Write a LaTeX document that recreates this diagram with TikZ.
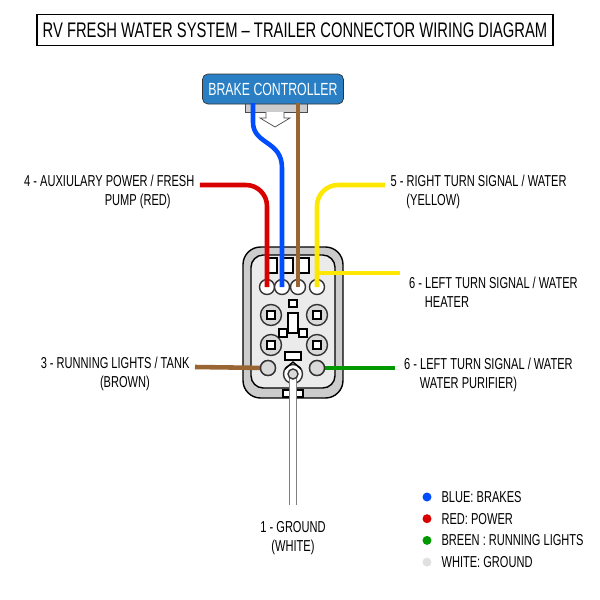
\documentclass[tikz,border=0pt]{standalone}
\usepackage{fontspec}
\setmainfont{Liberation Sans}[FakeStretch=0.7]
\usetikzlibrary{positioning}
\definecolor{ctrlblue}{HTML}{2A7FC4}

\begin{document}
\begin{tikzpicture}[x=0.02cm,y=-0.02cm,font=\fontsize{9}{11}\selectfont,wire/.style={line width=2.6pt,rounded corners=12pt},pin/.style={circle,draw=black!80,fill=white,thick,inner sep=0pt,minimum size=0.3cm},sock/.style={circle,draw=black!80,fill=black!15,thick,inner sep=0pt,minimum size=0.42cm},lbl/.style={align=center,inner sep=1pt},dot/.style={circle,inner sep=0pt,minimum size=0.18cm}]
		\useasboundingbox (0,0) rectangle (600,600);
		\node[draw,thick,minimum width=10.2cm,minimum height=0.62cm,font=\fontsize{12}{14}\selectfont] (title) at (295,30) {RV FRESH WATER SYSTEM -- TRAILER CONNECTOR WIRING DIAGRAM};

		% brake controller
		\fill[black!20,draw=black!70] (245,100) rectangle (307,112);
		\draw[black!70,fill=white] (266,112) -- (266,118) -- (260,118) -- (275,127) -- (290,118) -- (284,118) -- (284,112);
		\node[draw=black!80,fill=ctrlblue,rounded corners=3pt,minimum width=2.25cm,minimum height=0.6cm,text=white,font=\fontsize{10}{11}\selectfont] (brake) at (273,89) {BRAKE CONTROLLER};

		% connector body
		\draw[thick,fill=black!20,rounded corners=10pt] (243,247) rectangle (343,398);
		\draw[thick,fill=black!8,rounded corners=7pt] (251,255) rectangle (335,388);
		\foreach \x in {272,288,304} \draw[thick,fill=white] (\x-5,258) rectangle (\x+5,273);
		\node[pin] (p1) at (267,287) {};
		\node[pin] (p2) at (282,287) {};
		\node[pin] (p3) at (298,287) {};
		\node[pin] (p4) at (317,287) {};
		\foreach \x/\y in {271/315,317/315,271/345,317/345} {\node[sock] at (\x,\y) {}; \draw[thick,fill=white] (\x-4,\y-4) rectangle (\x+4,\y+4);}
		\draw[thick,fill=white] (289,300) rectangle (297,307);
		\draw[thick,fill=white] (288,313) rectangle (298,333);
		\draw[thick] (285,333) -- (301,333);
		\draw[thick,fill=white] (279,329) rectangle (287,337);
		\draw[thick,fill=white] (299,329) rectangle (307,337);
		\draw[thick,fill=white] (285,352) rectangle (301,360);
		\node[pin,fill=black!15] (p5) at (268,368) {};
		\node[pin,fill=black!15] (p6) at (317,368) {};
		\node[pin,minimum size=0.38cm] (gnd) at (293,374) {};
		\draw[thick] (285,369) -- (293,362) -- (301,369);
		\draw[thick,fill=white] (283,390) rectangle (303,397);

		% wires
		\coordinate (rd) at (200,185);
		\coordinate (ye) at (385,185);
		\coordinate (ye2) at (400,273);
		\coordinate (br) at (195,367);
		\coordinate (gr) at (395,368);
		\coordinate (wh) at (293,505);
		\coordinate (bl) at (253,103);
		\coordinate (bw) at (298,103);
		\draw[wire,red!85!black] (rd) -| (p1.center);
		\draw[line width=2.6pt,blue!70!cyan] (bl) -- (253,122) .. controls (253,145) and (282,140) .. (282,168) -- (p2.center);
		\draw[wire,brown!80!black] (bw) -- (p3.center);
		\draw[wire,yellow!90!orange] (ye) -| (p4.center);
		\draw[wire,yellow!90!orange] (p4.center) ++(0,-14) -- (ye2);
		\draw[wire,brown!80!black] (br) -- (p5.center);
		\draw[wire,green!60!black] (gr) -- (p6.center);
		\draw[line width=5pt,black!50] (gnd.center) -- (wh);
		\draw[line width=3.6pt,white] (gnd.center) -- (wh);
		\node[pin,fill=black!15,minimum size=0.2cm] at (gnd) {};
		\node[pin,fill=black!15] at (p5) {};
		\node[pin,fill=black!15] at (p6) {};

		% labels
		\node[lbl,left=2pt of rd,anchor=north east,yshift=7pt,align=right] {4 - AUXIULARY POWER / FRESH\\PUMP (RED)\hspace*{1.5em}};
		\node[lbl,right=2pt of ye,anchor=north west,yshift=7pt,align=left] {5 - RIGHT TURN SIGNAL / WATER\\\hspace*{1em}(YELLOW)};
		\node[lbl,right=4pt of ye2,anchor=north west,yshift=-1pt,align=left] {6 - LEFT TURN SIGNAL / WATER\\\hspace*{1em}HEATER};
		\node[lbl,left=2pt of br,anchor=north east,yshift=7pt,align=right] {3 - RUNNING LIGHTS / TANK\\(BROWN)\hspace*{2.5em}};
		\node[lbl,right=4pt of gr,anchor=north west,yshift=7pt,align=left] {6 - LEFT TURN SIGNAL / WATER\\\hspace*{1em}WATER PURIFIER)};
		\node[lbl,below=8pt of wh] {1 - GROUND\\(WHITE)};

		% legend
		\node[dot,fill=blue!70!cyan] (l1) at (427,497) {};
		\node[dot,fill=red!85!black,below=0.24cm of l1] (l2) {};
		\node[dot,fill=green!60!black,below=0.24cm of l2] (l3) {};
		\node[dot,fill=black!12,below=0.24cm of l3] (l4) {};
		\node[right=2pt of l1] {BLUE: BRAKES};
		\node[right=2pt of l2] {RED: POWER};
		\node[right=2pt of l3] {BREEN : RUNNING LIGHTS};
		\node[right=2pt of l4] {WHITE: GROUND};

		\end{tikzpicture}
\end{document}
